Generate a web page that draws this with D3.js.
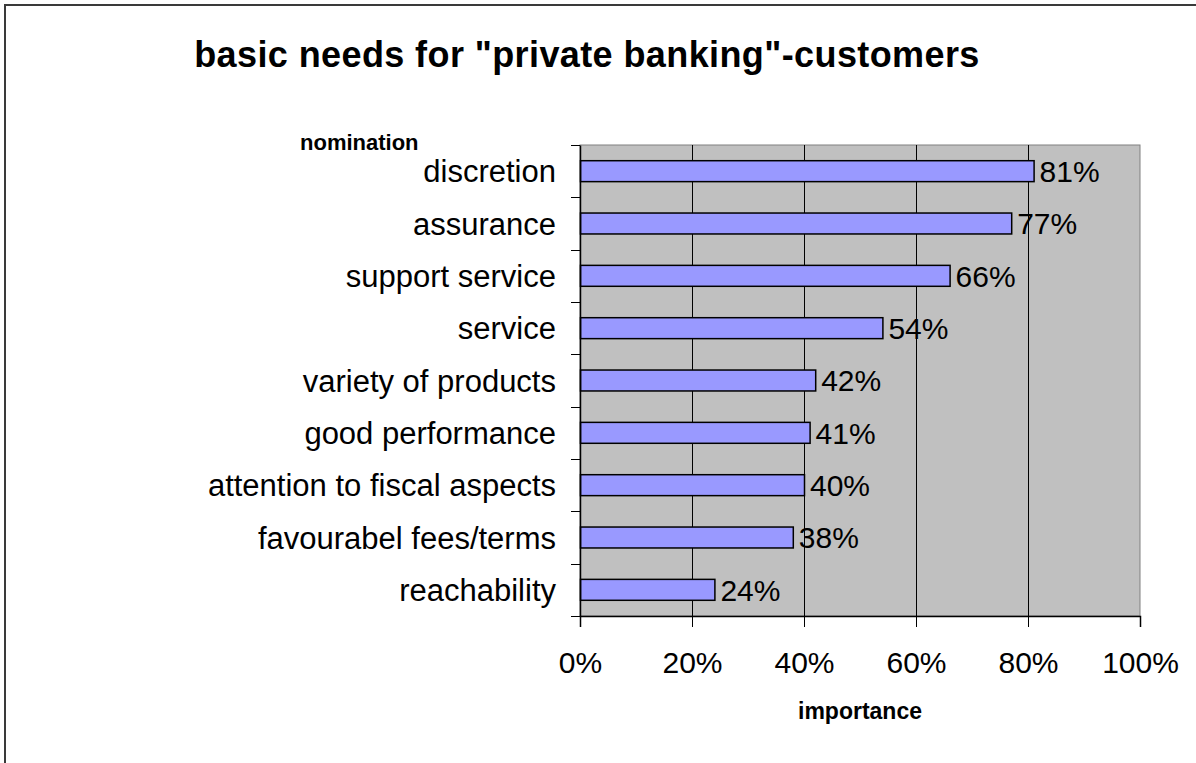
<!DOCTYPE html>
<html>
<head>
<meta charset="utf-8">
<script src="https://cdn.jsdelivr.net/npm/d3@7/dist/d3.min.js"></script>
<style>
  html, body { margin: 0; padding: 0; background: #ffffff; }
  svg { display: block; }
  text { font-family: "Liberation Sans", Arial, sans-serif; fill: #000; }
</style>
</head>
<body>
<svg id="chart" width="1196" height="763"></svg>
<script>
// Survey results: share of customers naming each need
const categories = [
  "discretion",
  "assurance",
  "support service",
  "service",
  "variety of products",
  "good performance",
  "attention to fiscal aspects",
  "favourabel fees/terms",
  "reachability"
];
const values = [81, 77, 66, 54, 42, 41, 40, 38, 24];
const tickValues = [0, 20, 40, 60, 80, 100];
const tickLabels = ["0%", "20%", "40%", "60%", "80%", "100%"];

const svg = d3.select("#chart");
const plot = { left: 580, top: 145, right: 1140, bottom: 616 };

// Outer chart frame (runs off the right and bottom edges)
svg.append("rect")
  .attr("x", 5).attr("y", 5)
  .attr("width", 1400).attr("height", 1000)
  .attr("fill", "#fff")
  .attr("stroke", "#3a3a3a")
  .attr("stroke-width", 2);

const x = d3.scaleLinear().domain([0, 100]).range([plot.left, plot.right]);
const y = d3.scaleBand().domain(categories).range([plot.top, plot.bottom]).padding(0);

// Plot area background
svg.append("rect")
  .attr("x", plot.left).attr("y", plot.top)
  .attr("width", plot.right - plot.left).attr("height", plot.bottom - plot.top)
  .attr("fill", "#c0c0c0")
  .attr("stroke", "#808080")
  .attr("stroke-width", 1);

// Vertical gridlines
svg.append("g")
  .selectAll("line")
  .data(tickValues.filter(v => v > 0 && v < 100))
  .join("line")
  .attr("x1", d => Math.round(x(d)) + 0.5).attr("x2", d => Math.round(x(d)) + 0.5)
  .attr("y1", plot.top).attr("y2", plot.bottom)
  .attr("stroke", "#000").attr("stroke-width", 1);

// Bars
const barH = y.bandwidth() * 0.4;
svg.append("g")
  .selectAll("rect")
  .data(categories)
  .join("rect")
  .attr("x", x(0) + 0.5)
  .attr("y", (d) => y(d) + (y.bandwidth() - barH) / 2)
  .attr("width", (d, i) => x(values[i]) - x(0))
  .attr("height", barH)
  .attr("fill", "#9999ff")
  .attr("stroke", "#000")
  .attr("stroke-width", 1.5);

// Value labels
svg.append("g")
  .selectAll("text")
  .data(categories)
  .join("text")
  .attr("x", (d, i) => x(values[i]) + 6)
  .attr("y", d => y(d) + y.bandwidth() / 2)
  .attr("dy", "0.36em")
  .attr("font-size", 30)
  .text((d, i) => values[i] + "%");

// Category axis
const yAxis = svg.append("g")
  .attr("transform", `translate(${plot.left},0)`)
  .call(d3.axisLeft(y).tickSize(0).tickPadding(24));
yAxis.select(".domain").attr("stroke", "#000").attr("stroke-width", 1.5);
yAxis.selectAll("text").attr("font-size", 31).attr("dy", "0.36em")
  .style("font-family", '"Liberation Sans", Arial, sans-serif');
// tick marks sit between categories
const boundaries = categories.map(c => y(c)).concat([plot.bottom]);
svg.append("g").selectAll("line")
  .data(boundaries).join("line")
  .attr("x1", plot.left - 9).attr("x2", plot.left)
  .attr("y1", d => Math.round(d) + 0.5).attr("y2", d => Math.round(d) + 0.5)
  .attr("stroke", "#000").attr("stroke-width", 1);

// Value axis
const xAxis = svg.append("g")
  .attr("transform", `translate(0,${plot.bottom})`)
  .call(d3.axisBottom(x).tickValues(tickValues)
    .tickFormat((d, i) => tickLabels[i]).tickSize(11).tickPadding(25));
xAxis.select(".domain").attr("stroke", "#000").attr("stroke-width", 1.5);
xAxis.selectAll(".tick line").attr("stroke", "#000");
xAxis.selectAll("text").attr("font-size", 30)
  .style("font-family", '"Liberation Sans", Arial, sans-serif');

// Title and axis titles
svg.append("text")
  .attr("x", 587).attr("y", 67)
  .attr("text-anchor", "middle")
  .attr("font-size", 36).attr("font-weight", "bold")
  .attr("letter-spacing", 0.4)
  .text('basic needs for "private banking"-customers');

svg.append("text")
  .attr("x", 300).attr("y", 150)
  .attr("font-size", 22).attr("font-weight", "bold")
  .text("nomination");

svg.append("text")
  .attr("x", (plot.left + plot.right) / 2).attr("y", 719)
  .attr("text-anchor", "middle")
  .attr("font-size", 23).attr("font-weight", "bold")
  .text("importance");
</script>
</body>
</html>
